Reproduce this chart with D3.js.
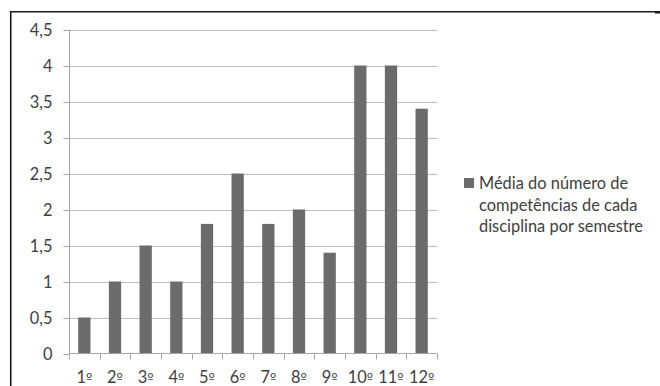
<!DOCTYPE html>
<html>
<head>
<meta charset="utf-8">
<script src="https://cdn.jsdelivr.net/npm/d3@7/dist/d3.min.js"></script>
<style>
  html, body { margin: 0; padding: 0; background: #ffffff; }
  svg { display: block; }
  text { font-family: Lato, "Noto Sans", sans-serif; fill: #404040; }
</style>
</head>
<body>
<svg id="chart" width="660" height="386"></svg>
<script>
// Semesters and the average number of competencies per discipline
const semesters = ["1º", "2º", "3º", "4º", "5º", "6º", "7º", "8º", "9º", "10º", "11º", "12º"];
const averages = [0.5, 1, 1.5, 1, 1.8, 2.5, 1.8, 2, 1.4, 4, 4, 3.4];
const yTickValues = [0, 0.5, 1, 1.5, 2, 2.5, 3, 3.5, 4, 4.5];
const legendLines = ["Média do número de", "competências de cada", "disciplina por semestre"];

const svg = d3.select("#chart");
const plot = { left: 69, right: 437, top: 29.5, bottom: 353.5 };
const fontSize = 16.4;

const ptBR = d3.formatLocale({ decimal: ",", thousands: ".", grouping: [3], currency: ["R$", ""] });
const fmt = ptBR.format("~g");

// Scales: one slot per semester, bar occupies the middle 40% of its slot
const x = d3.scaleBand().domain(semesters).range([plot.left, plot.right]).padding(0);
const y = d3.scaleLinear().domain([0, 4.5]).range([plot.bottom, plot.top]);
const barFrac = 0.4;

// Frame (left and top edges)
svg.append("line").attr("x1", 10.75).attr("x2", 10.75).attr("y1", 11).attr("y2", 386)
  .attr("stroke", "#1a1a1a").attr("stroke-width", 1.6);
svg.append("line").attr("x1", 10).attr("x2", 656).attr("y1", 11.75).attr("y2", 11.75)
  .attr("stroke", "#1a1a1a").attr("stroke-width", 1.5);
svg.append("rect").attr("x", 655).attr("y", 11).attr("width", 5).attr("height", 2.5).attr("fill", "#1a1a1a");

// Gridlines
svg.append("g").selectAll("line").data(yTickValues.filter(d => d > 0)).join("line")
  .attr("x1", plot.left).attr("x2", plot.right)
  .attr("y1", d => Math.round(y(d)) + 0.5).attr("y2", d => Math.round(y(d)) + 0.5)
  .attr("stroke", "#bdbdbd").attr("stroke-width", 1);

// Y axis
const yAxis = svg.append("g").attr("transform", `translate(${plot.left + 0.5},0)`)
  .call(d3.axisLeft(y).tickValues(yTickValues).tickFormat(fmt).tickSize(6).tickPadding(11));
yAxis.select(".domain").attr("stroke", "#a6a6a6").attr("d", `M0,${plot.top}V${plot.bottom}`);
yAxis.selectAll(".tick line").attr("stroke", "#a6a6a6");
yAxis.selectAll(".tick").attr("transform", d => `translate(0,${Math.round(y(d)) + 0.5})`);
yAxis.selectAll(".tick text").attr("font-size", fontSize).attr("fill", "#404040")
  .attr("font-family", "Lato, 'Noto Sans', sans-serif");

// Bars
svg.append("g").selectAll("rect").data(semesters.map((s, i) => ({ s, v: averages[i] }))).join("rect")
  .attr("x", d => x(d.s) + x.bandwidth() * (1 - barFrac) / 2)
  .attr("width", x.bandwidth() * barFrac)
  .attr("y", d => y(d.v))
  .attr("height", d => y(0) - y(d.v))
  .attr("fill", "#6b6b6b");

// X axis with tick marks on slot boundaries
const xg = svg.append("g");
xg.append("line").attr("x1", plot.left).attr("x2", plot.right)
  .attr("y1", plot.bottom).attr("y2", plot.bottom).attr("stroke", "#a6a6a6");
const bounds = semesters.map(s => x(s)).concat([plot.right]);
xg.selectAll("line.tk").data(bounds).join("line").attr("class", "tk")
  .attr("x1", d => Math.round(d) + 0.5).attr("x2", d => Math.round(d) + 0.5)
  .attr("y1", plot.bottom).attr("y2", plot.bottom + 6).attr("stroke", "#a6a6a6");
// Semester labels: the ordinal indicator is set in a face with an underlined º
const xl = xg.selectAll("text").data(semesters).join("text")
  .attr("x", d => x(d) + x.bandwidth() / 2)
  .attr("y", 383)
  .attr("text-anchor", "middle")
  .attr("font-size", fontSize);
xl.append("tspan").text(d => d.replace("º", ""));
xl.append("tspan").attr("font-family", "'DejaVu Sans', sans-serif").attr("font-size", fontSize - 3).text("º");

// Legend
const lg = svg.append("g");
lg.append("rect").attr("x", 464).attr("y", 178).attr("width", 10).attr("height", 10).attr("fill", "#6b6b6b");
lg.selectAll("text").data(legendLines).join("text")
  .attr("x", 479).attr("y", (d, i) => 189 + i * 21.5)
  .attr("font-size", fontSize)
  .text(d => d);
</script>
</body>
</html>
